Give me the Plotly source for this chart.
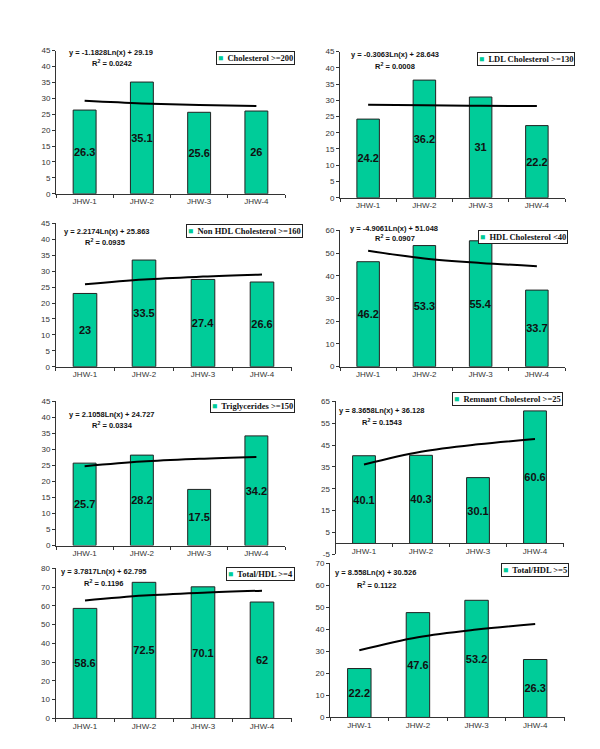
import numpy as np
import plotly.graph_objects as go

W, H = 600, 749

# ---------------- data ----------------
categories = ["JHW-1", "JHW-2", "JHW-3", "JHW-4"]

cholesterol_200 = [26.3, 35.1, 25.6, 26]
ldl_cholesterol_130 = [24.2, 36.2, 31, 22.2]
non_hdl_cholesterol_160 = [23, 33.5, 27.4, 26.6]
hdl_cholesterol_40 = [46.2, 53.3, 55.4, 33.7]
triglycerides_150 = [25.7, 28.2, 17.5, 34.2]
remnant_cholesterol_25 = [40.1, 40.3, 30.1, 60.6]
total_hdl_4 = [58.6, 72.5, 70.1, 62]
total_hdl_5 = [22.2, 47.6, 53.2, 26.3]

series_values = [cholesterol_200, ldl_cholesterol_130, non_hdl_cholesterol_160,
                 hdl_cholesterol_40, triglycerides_150, remnant_cholesterol_25,
                 total_hdl_4, total_hdl_5]

series_names = ["Cholesterol >=200", "LDL Cholesterol >=130",
                "Non HDL Cholesterol >=160", "HDL Cholesterol <40",
                "Triglycerides >=150", "Remnant Cholesterol >=25",
                "Total/HDL >=4", "Total/HDL >=5"]

equation_texts = ["y = -1.1828Ln(x) + 29.19", "y = -0.3063Ln(x) + 28.643",
                  "y = 2.2174Ln(x) + 25.863", "y = -4.9061Ln(x) + 51.048",
                  "y = 2.1058Ln(x) + 24.727", "y = 8.3658Ln(x) + 36.128",
                  "y = 3.7817Ln(x) + 62.795", "y = 8.558Ln(x) + 30.526"]

r_squared_texts = ["0.0242", "0.0008", "0.0935", "0.0907",
                   "0.0334", "0.1543", "0.1196", "0.1122"]

y_ranges = [(0, 45), (0, 45), (0, 45), (0, 60), (0, 45), (-5, 65), (0, 80), (0, 70)]
y_ticks = [list(range(0, 46, 5)), list(range(0, 46, 5)), list(range(0, 46, 5)),
           list(range(0, 61, 10)), list(range(0, 46, 5)), list(range(-5, 66, 10)),
           list(range(0, 81, 10)), list(range(0, 71, 10))]

# ---------------- layout geometry (pixels) ----------------
# plot box: left, right, top, bottom
boxes = [(48, 277, 39, 184), (332, 557, 40, 188),
         (47.5, 283.5, 214, 359), (332, 557, 221, 359),
         (48, 277, 394, 540), (327.5, 555.5, 394, 549),
         (47.5, 283.5, 563, 715), (322, 556.5, 558, 714)]
# equation line centre (x, y), R2 line centre (x, y)
eq_pos = [((103, 41), (104, 52)), ((387, 43), (387, 55)),
          ((98, 222), (97, 233)), ((386, 219), (387, 229)),
          ((103, 407), (104, 418)), ((373, 403), (374, 415)),
          ((95, 566), (95, 578)), ((367, 567), (368, 580))]
# legend box right edge, top edge
leg_pos = [(287, 39), (567, 40), (295, 215), (560, 221),
           (287, 392), (555, 385), (287, 562), (561, 558)]

BAR_COLOR = "#00CC99"
AXIS_COLOR = "#333333"

def px(x):
    return x / W

def py(y):
    return 1 - y / H

fig = go.Figure()
annotations = []
layout_axes = {}

log_x = np.log(np.arange(1, len(categories) + 1))

for i, vals in enumerate(series_values):
    n = i + 1
    xa = "x" if n == 1 else f"x{n}"
    ya = "y" if n == 1 else f"y{n}"
    xkey = "xaxis" if n == 1 else f"xaxis{n}"
    ykey = "yaxis" if n == 1 else f"yaxis{n}"
    l, r, t, b = boxes[i]
    y0, y1 = y_ranges[i]

    fig.add_trace(go.Bar(
        x=categories, y=vals, xaxis=xa, yaxis=ya,
        name=series_names[i], showlegend=False,
        marker=dict(color=BAR_COLOR, line=dict(color="#222222", width=1)),
        width=0.4,
        text=vals, texttemplate="%{y}", textposition="inside",
        insidetextanchor="middle", textangle=0, constraintext="none",
        textfont=dict(family="Liberation Sans", size=11, color="#111111", weight="bold"),
    ))

    # logarithmic trendline fitted to the data
    a, c = np.polyfit(log_x, np.array(vals, dtype=float), 1)
    trend = a * log_x + c
    fig.add_trace(go.Scatter(
        x=categories, y=trend, xaxis=xa, yaxis=ya, mode="lines",
        line=dict(color="#000000", width=2, shape="spline"),
        showlegend=False, hoverinfo="skip",
    ))

    ydom = [py(b), py(t)]
    xaxis_def = dict(
        domain=[px(l), px(r)], anchor=ya, range=[-0.5, len(categories) - 0.5],
        showline=True, linecolor=AXIS_COLOR, linewidth=1,
        ticks="outside", tickson="boundaries", ticklen=3, tickcolor=AXIS_COLOR,
        showgrid=False, zeroline=False,
        tickfont=dict(family="Liberation Sans", size=8, color="#333333"),
    )
    if y0 < 0:
        zero_pos = ydom[0] + (0 - y0) / (y1 - y0) * (ydom[1] - ydom[0])
        xaxis_def.update(anchor="free", position=zero_pos)
    layout_axes[xkey] = xaxis_def
    layout_axes[ykey] = dict(
        domain=ydom, anchor=xa, range=[y0, y1],
        tickmode="array", tickvals=y_ticks[i],
        ticktext=[str(v) for v in y_ticks[i]],
        showline=True, linecolor=AXIS_COLOR, linewidth=1,
        ticks="outside", ticklen=3, tickcolor=AXIS_COLOR,
        showgrid=False, zeroline=False,
        tickfont=dict(family="Liberation Sans", size=8, color="#333333"),
    )

    (ex, ey), (rx, ry) = eq_pos[i]
    annotations.append(dict(
        x=px(ex), y=py(ey), xref="paper", yref="paper", showarrow=False,
        xanchor="center", yanchor="middle", text=equation_texts[i],
        font=dict(family="Liberation Sans", size=7.5, color="#111111", weight="bold"),
    ))
    annotations.append(dict(
        x=px(rx), y=py(ry), xref="paper", yref="paper", showarrow=False,
        xanchor="center", yanchor="middle",
        text="R<sup>2</sup> = " + r_squared_texts[i],
        font=dict(family="Liberation Sans", size=7.5, color="#111111", weight="bold"),
    ))

    lx, ly = leg_pos[i]
    name_html = series_names[i].replace("<", "&lt;").replace(">", "&gt;")
    annotations.append(dict(
        x=px(lx), y=py(ly), xref="paper", yref="paper", showarrow=False,
        xanchor="right", yanchor="top",
        text=f'<span style="color:{BAR_COLOR}">■</span>  ' + name_html,
        font=dict(family="Liberation Serif", size=8.5, color="#111111", weight="bold"),
        bordercolor="#222222", borderwidth=1, borderpad=1, bgcolor="white",
    ))

fig.update_layout(
    width=W, height=H,
    margin=dict(l=0, r=0, t=0, b=0),
    paper_bgcolor="white", plot_bgcolor="white",
    showlegend=False, bargap=0.6,
    annotations=annotations,
    **layout_axes,
)

fig.write_html("out.html")
